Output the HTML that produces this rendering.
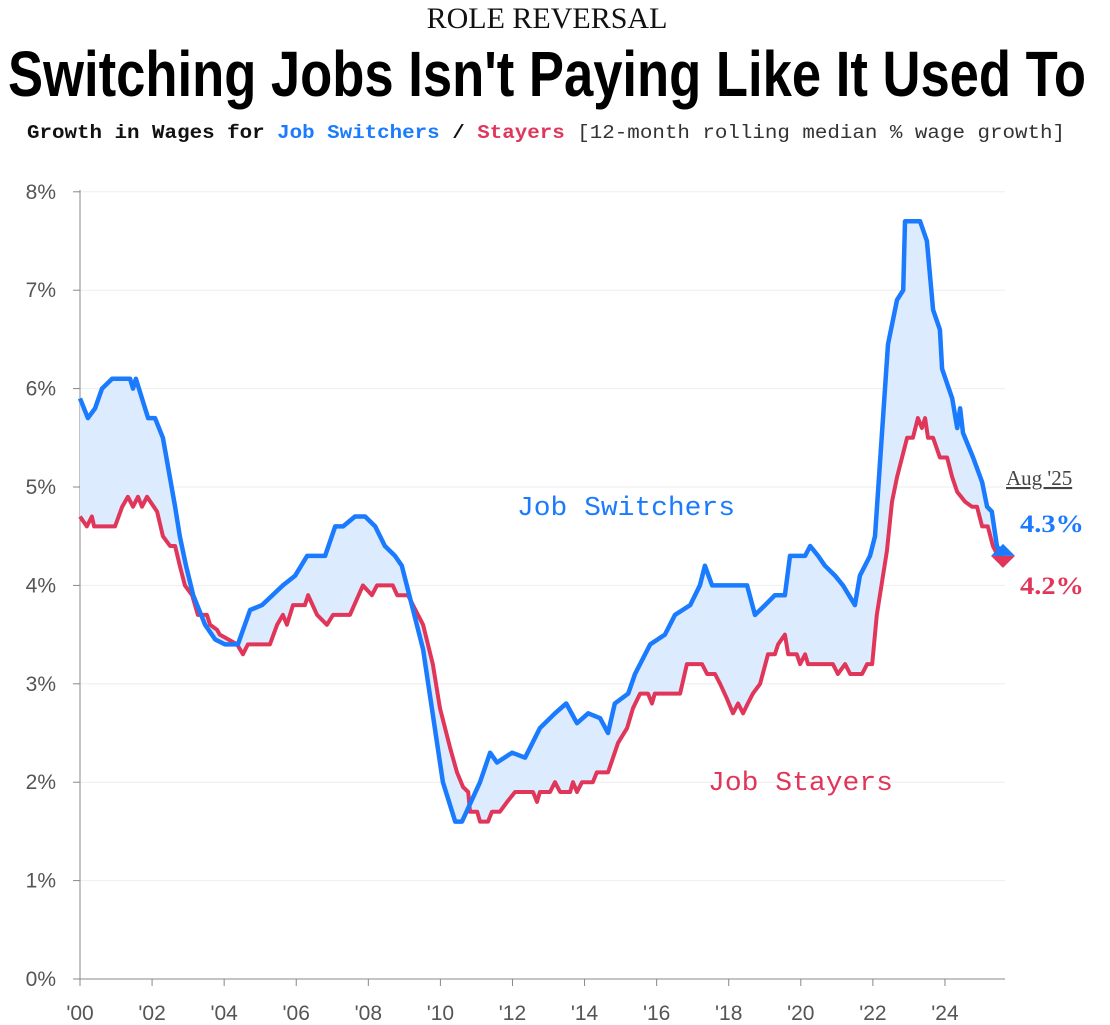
<!DOCTYPE html>
<html><head><meta charset="utf-8"><style>
html,body{margin:0;padding:0;background:#fff;}
svg{display:block;}
</style></head><body>
<svg id="chart" width="1110" height="1025" viewBox="0 0 1110 1025" xmlns="http://www.w3.org/2000/svg">
<text x="547" y="28" text-anchor="middle" font-family="Liberation Serif, serif" font-size="30" fill="#111">ROLE REVERSAL</text>
<text x="8" y="96" textLength="1078" lengthAdjust="spacingAndGlyphs" font-family="Liberation Sans, sans-serif" font-weight="bold" font-size="64" fill="#000">Switching Jobs Isn't Paying Like It Used To</text>
<text x="27" y="138" textLength="1038" lengthAdjust="spacingAndGlyphs" font-family="Liberation Mono, monospace" font-size="19"><tspan font-weight="bold" fill="#111">Growth in Wages for </tspan><tspan font-weight="bold" fill="#1a7bff">Job Switchers</tspan><tspan font-weight="bold" fill="#111"> / </tspan><tspan font-weight="bold" fill="#e0365a">Stayers</tspan><tspan fill="#333"> [12-month rolling median % wage growth]</tspan></text>
<g id="grid"></g>
<g id="axes"></g>
<path id="fill" fill="#dcebfd"></path>
<path id="redline" fill="none" stroke="#e0365a" stroke-width="4" stroke-linejoin="round"></path>
<path id="blueline" fill="none" stroke="#1a7bff" stroke-width="4.5" stroke-linejoin="round"></path>
<g id="marker"></g>
<text x="517" y="515" textLength="218" lengthAdjust="spacingAndGlyphs" font-family="Liberation Mono, monospace" font-size="27" fill="#1a7bff">Job Switchers</text>
<text x="708" y="790" textLength="185" lengthAdjust="spacingAndGlyphs" font-family="Liberation Mono, monospace" font-size="27" fill="#e0365a">Job Stayers</text>
<text x="1006" y="485" font-family="Liberation Serif, serif" font-size="21" fill="#444" text-decoration="underline">Aug '25</text>
<text x="1020" y="532" textLength="64" lengthAdjust="spacingAndGlyphs" font-family="Liberation Serif, serif" font-weight="bold" font-size="25" fill="#1a7bff">4.3%</text>
<text x="1020" y="594" textLength="64" lengthAdjust="spacingAndGlyphs" font-family="Liberation Serif, serif" font-weight="bold" font-size="25" fill="#e0365a">4.2%</text>
</svg>
<script>
const yTicks = [0,1,2,3,4,5,6,7,8];
const xTicks = [2000,2002,2004,2006,2008,2010,2012,2014,2016,2018,2020,2022,2024];
const xTickLabels = ["'00","'02","'04","'06","'08","'10","'12","'14","'16","'18","'20","'22","'24"];
const switcherDates = [2000.00,2000.22,2000.42,2000.61,2000.89,2001.39,2001.47,2001.55,2001.89,2002.08,2002.30,2002.64,2002.77,2002.94,2003.14,2003.47,2003.75,2004.02,2004.38,2004.72,2005.05,2005.63,2005.97,2006.30,2006.80,2007.08,2007.30,2007.63,2007.91,2008.19,2008.46,2008.74,2008.93,2009.52,2010.07,2010.41,2010.60,2011.10,2011.38,2011.57,2011.99,2012.35,2012.76,2013.18,2013.49,2013.79,2014.10,2014.43,2014.65,2014.84,2015.21,2015.40,2015.82,2016.23,2016.51,2016.93,2017.20,2017.34,2017.54,2017.76,2018.51,2018.73,2019.01,2019.28,2019.56,2019.70,2020.12,2020.26,2020.48,2020.67,2020.95,2021.17,2021.50,2021.64,2021.92,2022.06,2022.42,2022.67,2022.84,2022.89,2023.31,2023.50,2023.67,2023.86,2023.92,2024.20,2024.34,2024.42,2024.50,2024.78,2025.03,2025.17,2025.30,2025.44,2025.61];
const switcherValues = [5.9,5.7,5.8,6.0,6.1,6.1,6.0,6.1,5.7,5.7,5.5,4.8,4.5,4.2,3.9,3.6,3.45,3.4,3.4,3.75,3.8,4.0,4.1,4.3,4.3,4.6,4.6,4.7,4.7,4.6,4.4,4.3,4.2,3.35,2.0,1.6,1.6,2.0,2.3,2.2,2.3,2.25,2.55,2.7,2.8,2.6,2.7,2.65,2.5,2.8,2.9,3.1,3.4,3.5,3.7,3.8,4.0,4.2,4.0,4.0,4.0,3.7,3.8,3.9,3.9,4.3,4.3,4.4,4.3,4.2,4.1,4.0,3.8,4.1,4.3,4.5,6.45,6.9,7.0,7.7,7.7,7.5,6.8,6.6,6.2,5.9,5.6,5.8,5.55,5.3,5.05,4.8,4.75,4.4,4.3];
const stayerDates = [2000.00,2000.19,2000.33,2000.39,2000.97,2001.17,2001.33,2001.47,2001.61,2001.72,2001.86,2002.14,2002.30,2002.50,2002.64,2002.77,2002.91,2003.11,2003.27,2003.52,2003.61,2003.80,2003.88,2004.36,2004.52,2004.66,2005.27,2005.47,2005.63,2005.74,2005.91,2006.24,2006.33,2006.58,2006.85,2007.02,2007.49,2007.85,2008.10,2008.24,2008.68,2008.80,2009.10,2009.24,2009.52,2009.79,2009.99,2010.27,2010.46,2010.63,2010.77,2010.82,2011.02,2011.10,2011.32,2011.43,2011.65,2011.85,2012.07,2012.57,2012.68,2012.76,2013.04,2013.18,2013.32,2013.60,2013.68,2013.79,2013.93,2014.23,2014.34,2014.65,2014.93,2015.18,2015.34,2015.54,2015.76,2015.87,2015.95,2016.65,2016.84,2017.26,2017.40,2017.62,2017.76,2017.95,2018.12,2018.26,2018.40,2018.53,2018.67,2018.87,2019.09,2019.28,2019.37,2019.56,2019.65,2019.89,2019.98,2020.12,2020.20,2020.89,2021.03,2021.23,2021.37,2021.70,2021.84,2021.98,2022.11,2022.39,2022.53,2022.67,2022.95,2023.11,2023.25,2023.36,2023.45,2023.53,2023.67,2023.86,2024.06,2024.20,2024.34,2024.56,2024.75,2024.89,2025.03,2025.19,2025.33,2025.61];
const stayerValues = [4.7,4.6,4.7,4.6,4.6,4.8,4.9,4.8,4.9,4.8,4.9,4.75,4.5,4.4,4.4,4.2,4.0,3.9,3.7,3.7,3.6,3.55,3.5,3.4,3.3,3.4,3.4,3.6,3.7,3.6,3.8,3.8,3.9,3.7,3.6,3.7,3.7,4.0,3.9,4.0,4.0,3.9,3.9,3.8,3.6,3.2,2.75,2.35,2.1,1.95,1.9,1.7,1.7,1.6,1.6,1.7,1.7,1.8,1.9,1.9,1.8,1.9,1.9,2.0,1.9,1.9,2.0,1.9,2.0,2.0,2.1,2.1,2.4,2.55,2.75,2.9,2.9,2.8,2.9,2.9,3.2,3.2,3.1,3.1,3.0,2.85,2.7,2.8,2.7,2.8,2.9,3.0,3.3,3.3,3.4,3.5,3.3,3.3,3.2,3.3,3.2,3.2,3.1,3.2,3.1,3.1,3.2,3.2,3.7,4.35,4.85,5.1,5.5,5.5,5.7,5.6,5.7,5.5,5.5,5.3,5.3,5.1,4.95,4.85,4.8,4.8,4.6,4.6,4.4,4.2];

const X0=80, XPY=36.04, Y0=979, YPU=98.4;
const xs = d => X0 + (d-2000)*XPY;
const ys = v => Y0 - v*YPU;
const NS="http://www.w3.org/2000/svg";
const grid=document.getElementById('grid'), axes=document.getElementById('axes');
yTicks.forEach(t=>{
  if(t>0){
    const l=document.createElementNS(NS,'line');
    l.setAttribute('x1',X0);l.setAttribute('x2',1005);l.setAttribute('y1',ys(t));l.setAttribute('y2',ys(t));
    l.setAttribute('stroke','#eeeeee');l.setAttribute('stroke-width','1');
    
    
    grid.appendChild(l);
  }
  const tk=document.createElementNS(NS,'line');
  tk.setAttribute('x1',X0-7);tk.setAttribute('x2',X0);tk.setAttribute('y1',ys(t));tk.setAttribute('y2',ys(t));
  tk.setAttribute('stroke','#888');
  
  
  axes.appendChild(tk);
  const tx=document.createElementNS(NS,'text');
  tx.setAttribute('x',56);tx.setAttribute('y',ys(t)+7);tx.setAttribute('text-anchor','end');
  tx.setAttribute('font-family','Liberation Sans, sans-serif');tx.setAttribute('font-size','21');tx.setAttribute('fill','#555');
  tx.textContent=t+'%';
  
  
  axes.appendChild(tx);
});
const va=document.createElementNS(NS,'line');
va.setAttribute('x1',X0);va.setAttribute('x2',X0);va.setAttribute('y1',190);va.setAttribute('y2',Y0);va.setAttribute('stroke','#888');


axes.appendChild(va);
const ha=document.createElementNS(NS,'line');
ha.setAttribute('x1',X0);ha.setAttribute('x2',1005);ha.setAttribute('y1',Y0);ha.setAttribute('y2',Y0);ha.setAttribute('stroke','#888');


axes.appendChild(ha);
xTicks.forEach((t,i)=>{
  const tk=document.createElementNS(NS,'line');
  tk.setAttribute('x1',xs(t));tk.setAttribute('x2',xs(t));tk.setAttribute('y1',Y0);tk.setAttribute('y2',Y0+7);tk.setAttribute('stroke','#888');
  
  
  axes.appendChild(tk);
  const tx=document.createElementNS(NS,'text');
  tx.setAttribute('x',xs(t));tx.setAttribute('y',1020);tx.setAttribute('text-anchor','middle');
  tx.setAttribute('font-family','Liberation Sans, sans-serif');tx.setAttribute('font-size','21');tx.setAttribute('fill','#555');
  tx.textContent=xTickLabels[i];
  
  
  axes.appendChild(tx);
});
const pts=(ds,vs)=>ds.map((d,i)=>xs(d).toFixed(1)+','+ys(vs[i]).toFixed(1));
const bp=pts(switcherDates,switcherValues), rp=pts(stayerDates,stayerValues);
document.getElementById('blueline').setAttribute('d','M'+bp.join('L'));
document.getElementById('redline').setAttribute('d','M'+rp.join('L'));
document.getElementById('fill').setAttribute('d','M'+bp.join('L')+'L'+rp.slice().reverse().join('L')+'Z');
const lx=xs(switcherDates[switcherDates.length-1]), lyb=ys(switcherValues[switcherValues.length-1]);
const mk=document.getElementById('marker');
const cy=lyb;
const mTop=document.createElementNS(NS,'polygon');
mTop.setAttribute('points',`${lx-12},${cy} ${lx},${cy-12} ${lx+12},${cy}`);mTop.setAttribute('fill','#1a7bff');


mk.appendChild(mTop);
const mBot=document.createElementNS(NS,'polygon');
mBot.setAttribute('points',`${lx-12},${cy} ${lx},${cy+12} ${lx+12},${cy}`);mBot.setAttribute('fill','#e0365a');


mk.appendChild(mBot);
</script>
</body></html>
